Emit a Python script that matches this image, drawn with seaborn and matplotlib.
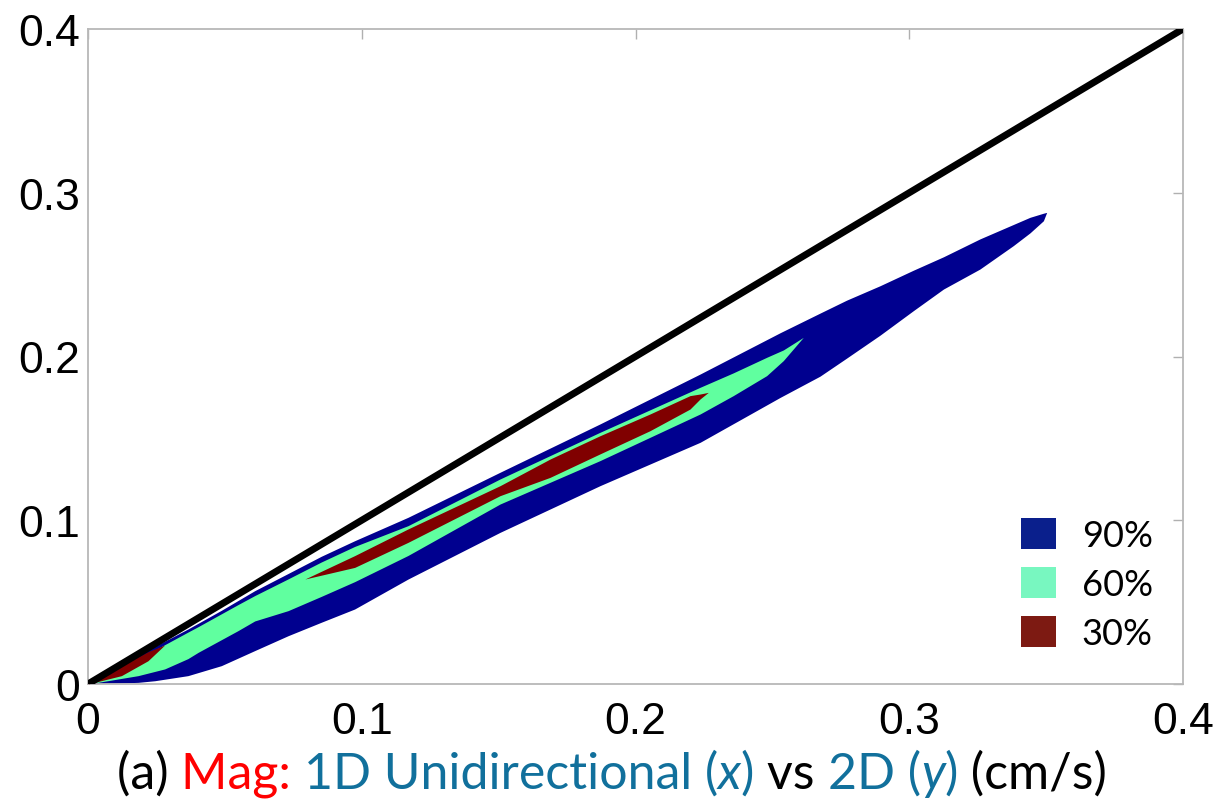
import matplotlib
matplotlib.use("Agg")
import matplotlib.pyplot as plt
from matplotlib.patches import Patch
import seaborn as sns

# ---------------- data ----------------
ticks = [0, 0.1, 0.2, 0.3, 0.4]
tick_labels = ["0", "0.1", "0.2", "0.3", "0.4"]

diag_x = [0.0, 0.4]
diag_y = [0.0, 0.4]

# 90% region
x90 = [0, 0.0183, 0.0244, 0.0365, 0.0487, 0.0609, 0.0731, 0.0852, 0.0974, 0.1169,
       0.1505, 0.187, 0.2236, 0.2528, 0.2674, 0.2771, 0.2893, 0.3015, 0.3125,
       0.3258, 0.338, 0.3441, 0.349, 0.3502]
up90 = [0, 0.0173, 0.023, 0.0336, 0.045, 0.057, 0.0675, 0.078, 0.0875, 0.1018,
        0.1293, 0.1588, 0.1893, 0.2145, 0.2265, 0.2344, 0.2432, 0.2527, 0.2609,
        0.2718, 0.2806, 0.285, 0.2875, 0.288]
lo90 = [0, 0.001, 0.002, 0.0051, 0.0112, 0.0204, 0.0295, 0.0377, 0.0458, 0.0641,
        0.0926, 0.1211, 0.1476, 0.175, 0.188, 0.199, 0.213, 0.228, 0.2412,
        0.2534, 0.2677, 0.2755, 0.2829, 0.288]

# 60% region
x60 = [0, 0.0183, 0.028, 0.0365, 0.0402, 0.0548, 0.0609, 0.0731, 0.0852, 0.0974,
       0.1169, 0.1505, 0.187, 0.2236, 0.2357, 0.2479, 0.254, 0.2613]
up60 = [0, 0.0153, 0.024, 0.0317, 0.035, 0.0485, 0.054, 0.0642, 0.0745, 0.084,
        0.0967, 0.1252, 0.1537, 0.1812, 0.190, 0.1995, 0.204, 0.2117]
lo60 = [0, 0.0051, 0.0092, 0.0155, 0.0193, 0.0326, 0.0385, 0.0448, 0.0535, 0.0625,
        0.0785, 0.1099, 0.1364, 0.1649, 0.1761, 0.1883, 0.1975, 0.2117]

# 30% region (two pieces)
x30a = [0.0, 0.0122, 0.0219, 0.028]
up30a = [0.0, 0.0112, 0.0197, 0.0238]
lo30a = [0.0, 0.0051, 0.0142, 0.0238]

x30b = [0.0792, 0.0974, 0.1169, 0.1505, 0.1688, 0.187, 0.2053, 0.2199, 0.2236, 0.2266]
up30b = [0.0641, 0.0784, 0.0947, 0.1211, 0.1374, 0.1516, 0.1649, 0.1761, 0.1771, 0.1781]
lo30b = [0.0641, 0.0712, 0.0865, 0.115, 0.1262, 0.1405, 0.1547, 0.1679, 0.1741, 0.1781]

levels = ["90%", "60%", "30%"]

# ---------------- styling ----------------
C90, C60, C30 = "#00008f", "#60ff9f", "#800000"
LEG_COLORS = ["#0a1f8c", "#78f7c0", "#7d1a12"]
TEAL = "#11709c"
RED = "#ff0000"

sns.set_theme(style="white")
plt.rcParams["font.family"] = ["Liberation Sans", "DejaVu Sans"]

fig = plt.figure(figsize=(12.19, 8.03), dpi=100)
ax = fig.add_axes([88 / 1219, 1 - 685 / 803, (1183 - 88) / 1219, (685 - 30) / 803])

ax.fill_between(x90, lo90, up90, color=C90, lw=0, zorder=1)
ax.fill_between(x60, lo60, up60, color=C60, lw=0, zorder=2)
ax.fill_between(x30a, lo30a, up30a, color=C30, lw=0, zorder=3)
ax.fill_between(x30b, lo30b, up30b, color=C30, lw=0, zorder=3)

sns.lineplot(x=diag_x, y=diag_y, color="black", lw=5, ax=ax, zorder=5)

ax.set_xlim(0, 0.4)
ax.set_ylim(0, 0.4)
ax.set_xticks(ticks)
ax.set_xticklabels(tick_labels)
ax.set_yticks(ticks)
ax.set_yticklabels(tick_labels)
ax.tick_params(axis="both", direction="in", length=7, width=1, color="#b0b0b0",
               labelsize=32, labelcolor="black", top=True, right=True)
ax.tick_params(axis="x", pad=12)
ax.tick_params(axis="y", pad=6)
for s in ax.spines.values():
    s.set_color("#b8b8b8")
    s.set_linewidth(1.3)
ax.set_xlabel("")
ax.set_ylabel("")

handles = [Patch(facecolor=c, edgecolor="none") for c in LEG_COLORS]
leg = ax.legend(handles, levels, loc="lower left", bbox_to_anchor=(0.836, 0.024),
                frameon=False, prop={"family": "Lato", "size": 26},
                handlelength=0.95, handleheight=0.95, labelspacing=0.42,
                handletextpad=0.72, borderpad=0.0)
for t in leg.get_texts():
    t.set_color("black")

# ---------------- multi-coloured x label ----------------
pieces = [("(a) ", "black", "normal"), ("Mag: ", RED, "normal"),
          ("1D Unidirectional (", TEAL, "normal"), ("x", TEAL, "italic"),
          (") ", TEAL, "normal"), ("vs ", "black", "normal"),
          ("2D (", TEAL, "normal"), ("y", TEAL, "italic"), (")", TEAL, "normal"),
          (" (cm/s)", "black", "normal")]
base_y = (803 - 789) / 803
texts = [fig.text(0, base_y, s, color=c, fontstyle=st, family="Lato", fontsize=36,
                  ha="left", va="baseline") for s, c, st in pieces]
fig.canvas.draw()
r = fig.canvas.get_renderer()
widths = [t.get_window_extent(r).width / 1219 for t in texts]
x = 0.5 - sum(widths) / 2 + 0.002
for t, w in zip(texts, widths):
    t.set_x(x)
    x += w

fig.savefig("out.png", dpi=100)
